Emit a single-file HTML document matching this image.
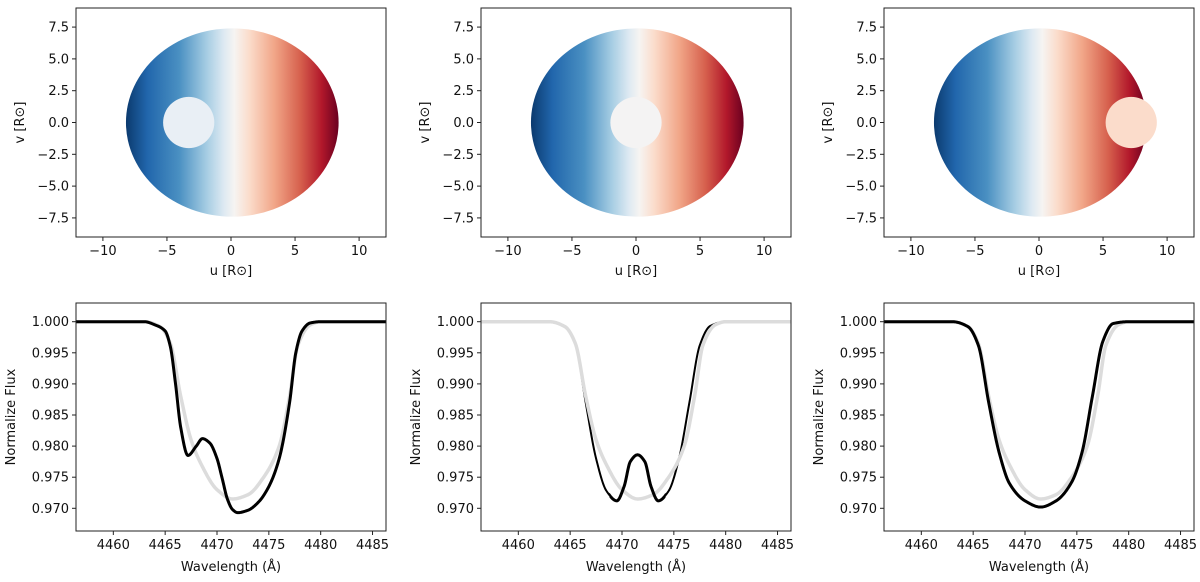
<!DOCTYPE html>
<html><head><meta charset="utf-8"><style>
body{margin:0;background:#fff;}
svg{display:block;font-family:"DejaVu Sans","Liberation Sans",sans-serif;}
</style></head><body>
<svg id="fig" width="1200" height="582" viewBox="0 0 1200 582" xmlns="http://www.w3.org/2000/svg">
<defs>
<linearGradient id="rdbu" x1="0" x2="1" y1="0" y2="0">
<stop offset="0" stop-color="#0b3a6e"/><stop offset="0.1" stop-color="#2166ac"/><stop offset="0.25" stop-color="#4a90c2"/>
<stop offset="0.38" stop-color="#a6cde3"/><stop offset="0.46" stop-color="#dde9f2"/><stop offset="0.51" stop-color="#f6f4f2"/>
<stop offset="0.58" stop-color="#fbdccb"/><stop offset="0.7" stop-color="#f1a587"/><stop offset="0.82" stop-color="#d6604d"/>
<stop offset="0.92" stop-color="#b2182b"/><stop offset="1" stop-color="#6a0020"/>
</linearGradient>
</defs>
</svg>
<script>
const xTicksTop=[-10,-5,0,5,10];
const yTicksTop=[7.5,5.0,2.5,0.0,-2.5,-5.0,-7.5];
const xTicksBot=[4460,4465,4470,4475,4480,4485];
const yTicksBot=[1.000,0.995,0.990,0.985,0.980,0.975,0.970];
const diskRu=8.3, diskRv=7.4, diskCu=0.1;
const planetU=[-3.3,0.0,7.2];
const planetR=2.0;
const planetColors=["#e9eff5","#f4f3f3","#fbdccb"];
const grayW=[4456,4463,4464.5,4465.5,4466.5,4467.5,4468.5,4470,4471.5,4473,4474.5,4476,4477,4477.8,4479,4480,4487];
const grayF=[1,1,0.9992,0.9965,0.988,0.981,0.977,0.973,0.9715,0.9722,0.975,0.980,0.988,0.9962,0.9995,1,1];
const black1W=[4456,4463,4464,4465,4465.5,4466,4466.5,4467.2,4468,4468.6,4469.3,4470,4470.5,4471,4471.5,4472,4473,4474,4475,4476,4477,4477.6,4478.2,4479,4480,4487];
const black1F=[1,1,0.9995,0.9985,0.996,0.990,0.983,0.9785,0.980,0.9812,0.9805,0.978,0.9748,0.9715,0.9698,0.9693,0.9697,0.971,0.9735,0.978,0.987,0.995,0.9985,0.9998,1,1];
const black2W=[4456,4463,4464.5,4465.5,4466.5,4467.5,4468.5,4469.5,4470.2,4470.8,4471.5,4472.2,4472.8,4473.5,4474.5,4475.5,4476.5,4477.5,4478.5,4480,4487];
const black2F=[1,1,0.9992,0.9965,0.987,0.978,0.9728,0.9712,0.9735,0.9775,0.9786,0.9775,0.9735,0.9712,0.9728,0.978,0.987,0.9962,0.9993,1,1];
const black3W=[4456,4463,4464.5,4465.5,4466.5,4467.5,4468.5,4470,4471.5,4473,4474.5,4475.5,4476.5,4477.5,4478.5,4480,4487];
const black3F=[1,1,0.9992,0.9962,0.987,0.979,0.974,0.9712,0.9702,0.9712,0.9742,0.979,0.988,0.9968,0.9997,1,1];
const blackW=[black1W,black2W,black3W], blackF=[black1F,black2F,black3F];

const NS="http://www.w3.org/2000/svg";
const svg=document.getElementById('fig');
function el(t,a,p){const e=document.createElementNS(NS,t);for(const k in a)e.setAttribute(k,a[k]);(p||svg).appendChild(e);return e;}
const lefts=[76,481,884], W=310;
const topY=8, topH=229, botY=303, botH=228;
function path(xs,ys,sx,sy){
 const n=xs.length,d=[],m=new Array(n);
 for(let i=0;i<n-1;i++)d.push((ys[i+1]-ys[i])/(xs[i+1]-xs[i]));
 m[0]=d[0];m[n-1]=d[n-2];
 for(let i=1;i<n-1;i++){ if(d[i-1]*d[i]<=0)m[i]=0; else {const w1=2*(xs[i+1]-xs[i])+(xs[i]-xs[i-1]),w2=(xs[i+1]-xs[i])+2*(xs[i]-xs[i-1]);m[i]=(w1+w2)/(w1/d[i-1]+w2/d[i]);} }
 let s='M'+sx(xs[0]).toFixed(2)+','+sy(ys[0]).toFixed(2);
 for(let i=0;i<n-1;i++){const h=xs[i+1]-xs[i];
  for(let k=1;k<=20;k++){const t=k/20,t2=t*t,t3=t2*t;
   const y=(2*t3-3*t2+1)*ys[i]+(t3-2*t2+t)*h*m[i]+(-2*t3+3*t2)*ys[i+1]+(t3-t2)*h*m[i+1];
   s+=' L'+sx(xs[i]+t*h).toFixed(2)+','+sy(y).toFixed(2);}}
 return s;}
for(let p=0;p<3;p++){
 const L=lefts[p];
 const g=el('g',{});
 
 
 const ux=u=>L+(u+12.1)/24.2*W, vy=v=>topY+(9.0-v)/18.0*topH;
 const clipId='clip'+p;
 const cp=el('clipPath',{id:clipId},g);el('rect',{x:L,y:topY,width:W,height:topH},cp);
 const disk=el('ellipse',{cx:ux(diskCu),cy:vy(0),rx:ux(diskRu)-ux(0),ry:vy(-diskRv)-vy(0),fill:'url(#rdbu)'},g);
 
 
 const pl=el('circle',{cx:ux(planetU[p]),cy:vy(0),r:ux(planetR)-ux(0),fill:planetColors[p],'clip-path':'url(#'+clipId+')'},g);
 
 
 el('rect',{x:L,y:topY,width:W,height:topH,fill:'none',stroke:'#222','stroke-width':1},g);
 xTicksTop.forEach(t=>{const x=ux(t);el('line',{x1:x,x2:x,y1:topY+topH,y2:topY+topH+4,stroke:'#222'},g);
  const tx=el('text',{x:x,y:topY+topH+18,'font-size':13,'text-anchor':'middle',fill:'#111'},g);tx.textContent=(t<0?'\u2212'+(-t):t);});
 yTicksTop.forEach(t=>{const y=vy(t);el('line',{x1:L-4,x2:L,y1:y,y2:y,stroke:'#222'},g);
  const tx=el('text',{x:L-7,y:y+4.5,'font-size':13,'text-anchor':'end',fill:'#111'},g);tx.textContent=(t<0?'\u2212'+(-t).toFixed(1):t.toFixed(1));});
 const xl=el('text',{x:L+W/2,y:275,'font-size':13,'text-anchor':'middle',fill:'#111'},g);xl.textContent='u [R\u2299]';
 
 const yl=el('text',{x:0,y:0,'font-size':13,'text-anchor':'middle',fill:'#111',transform:'translate('+(L-52)+','+(topY+topH/2)+') rotate(-90)'},g);yl.textContent='v [R\u2299]';
 
 const b=el('g',{});
 
 
 const wx=w=>L+(w-4456.4)/29.9*W, fy=f=>botY+18.7+(1.0-f)/0.005*31.1;
 const cid2='bclip'+p;const cp2=el('clipPath',{id:cid2},b);el('rect',{x:L,y:botY,width:W,height:botH},cp2);
 const gp=path(grayW,grayF,wx,fy), bp=path(blackW[p],blackF[p],wx,fy);
 const drawGray=()=>{const e=el('path',{d:gp,fill:'none',stroke:'#dcdcdc','stroke-width':3.5,'clip-path':'url(#'+cid2+')'},b);
  };
 const drawBlack=()=>{const e=el('path',{d:bp,fill:'none',stroke:'#000','stroke-width':3,'clip-path':'url(#'+cid2+')'},b);
  };
 if(p===1){
  const e0=el('path',{d:bp,fill:'none',stroke:'#000','stroke-width':2,'clip-path':'url(#'+cid2+')'},b);
  
  drawGray();
  const cpd='dip'+p;const c3=el('clipPath',{id:cpd},b);el('rect',{x:wx(4468.8),y:botY,width:wx(4474.2)-wx(4468.8),height:botH},c3);
  const e=el('path',{d:bp,fill:'none',stroke:'#000','stroke-width':3,'clip-path':'url(#'+cpd+')'},b);
  
 } else {drawGray();drawBlack();}
 el('rect',{x:L,y:botY,width:W,height:botH,fill:'none',stroke:'#222','stroke-width':1},b);
 xTicksBot.forEach(t=>{const x=wx(t);el('line',{x1:x,x2:x,y1:botY+botH,y2:botY+botH+4,stroke:'#222'},b);
  const tx=el('text',{x:x,y:botY+botH+18,'font-size':13,'text-anchor':'middle',fill:'#111'},b);tx.textContent=t;});
 yTicksBot.forEach(t=>{const y=fy(t);el('line',{x1:L-4,x2:L,y1:y,y2:y,stroke:'#222'},b);
  const tx=el('text',{x:L-7,y:y+4.5,'font-size':13,'text-anchor':'end',fill:'#111'},b);tx.textContent=t.toFixed(3);});
 const xl2=el('text',{x:L+W/2,y:571,'font-size':13,'text-anchor':'middle',fill:'#111'},b);xl2.textContent='Wavelength (\u00c5)';
 
 const yl2=el('text',{x:0,y:0,'font-size':13,'text-anchor':'middle',fill:'#111',transform:'translate('+(L-61)+','+(botY+botH/2)+') rotate(-90)'},b);yl2.textContent='Normalize Flux';
 
}
</script>
</body></html>
